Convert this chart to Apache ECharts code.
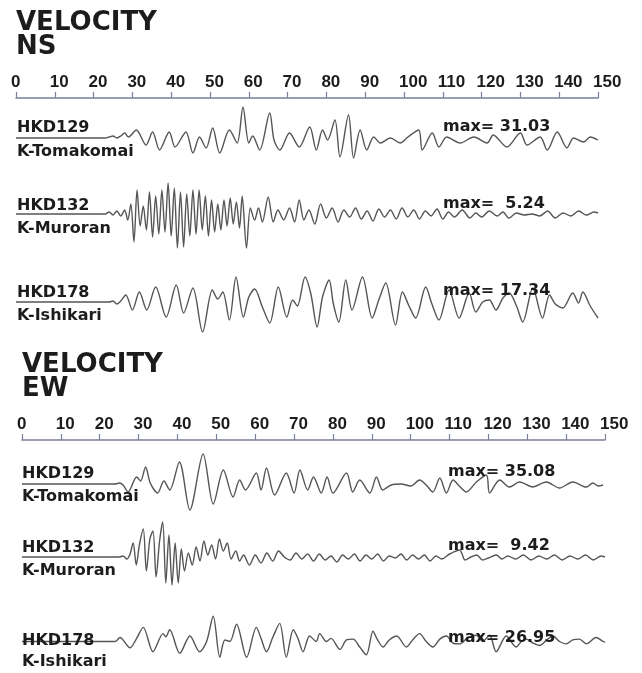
<!DOCTYPE html>
<html><head><meta charset="utf-8">
<script src="https://cdn.jsdelivr.net/npm/echarts@6/dist/echarts.min.js"></script>
<style>html,body{margin:0;padding:0;background:#fff}#c{width:642px;height:673px}</style>
</head><body><div id="c"></div>
<script>
// time axis (s)
const timeMin = 0, timeMax = 150, timeStep = 10;
const stations = ['HKD129', 'HKD132', 'HKD178'];
const sites = ['K-Tomakomai', 'K-Muroran', 'K-Ishikari'];
const nsMax = ['31.03', ' 5.24', '17.34'];
const ewMax = ['35.08', ' 9.42', '26.95'];

// velocity traces: [time s, relative amplitude]
const nsHKD129 = [[0,0],[23,0],[24,1],[25,2],[26,0],[27,2],[28,5],[29,1],[31,8],[33.5,-7],[35.2,6],[37,-12],[39.5,6],[41,-9],[43.8,6],[45.6,-15],[47.3,1],[49,-10],[50.7,10],[52.5,-15],[55,8],[57,-5],[58.5,31],[60,-5],[61,2],[62.8,-12],[65.4,25],[66.5,-2],[68,-12],[70.5,5],[73,-9],[75.7,11],[77.4,-12],[79,8],[80.3,-2],[82.2,18],[83.5,-19],[85.7,23],[87,-20],[88.7,8],[90.4,-12],[92.2,1],[93.9,-5],[96.5,0],[99,-5],[101,1],[103.8,8],[104.7,-12],[107.3,5],[109,-9],[111,1],[114.5,-5],[118,1],[121.4,-5],[123,3],[126.5,-9],[130,5],[131.7,-7],[135.1,1],[136.9,-12],[139.5,6],[142,-10],[143.7,0],[146.3,-4],[148,1],[150,-2]];
const nsHKD132 = [[0,0],[23,0],[24,2],[25,-1],[26,3],[27,-2],[28,4],[28.8,-6],[29.6,10],[30.4,-28],[31.2,24],[32,-12],[32.8,8],[33.6,-16],[34.4,22],[35.2,-23],[36,18],[36.8,-20],[37.6,24],[38.4,-18],[39.2,31],[40,-22],[40.8,26],[41.6,-34],[42.4,22],[43.2,-33],[44,20],[44.8,-22],[45.6,24],[46.4,-20],[47.2,24],[48,-16],[48.8,18],[49.6,-22],[50.4,14],[51.2,-18],[52,10],[52.8,-16],[53.6,14],[54.4,-12],[55.2,16],[56,-10],[56.8,12],[57.6,-14],[58.3,18],[59.4,-34],[60.4,6],[61.5,-6],[62.5,6],[63.5,-8],[65,17],[66.3,-8],[67.5,4],[69,-6],[70.5,6],[71.8,-8],[73,14],[74.2,-6],[75.5,4],[77,-10],[78.5,10],[80,-4],[81.5,6],[83,-8],[84.5,4],[86,-3],[87.5,6],[89,-5],[90.5,3],[92,-7],[93.5,5],[95,-3],[96.5,4],[98,-5],[99.5,6],[101,-3],[102.5,4],[104,-5],[105.5,3],[107,-2],[108.5,5],[110,-5],[111.5,2],[113,-3],[115,4],[117,-4],[118.5,1],[120,-3],[122,3],[124,-2],[125.5,2],[127,-4],[129,1],[131,-1],[133,0],[135,-2],[137,3],[139,-4],[141,1],[143,-2],[145,3],[147,-1],[149,2],[150,1]];
const nsHKD178 = [[0,0],[24,0],[25,1],[26,-2],[27,1],[28.3,7],[30,-8],[31.8,10],[33.7,-8],[36,15],[38.7,-15],[41.3,17],[43.2,-11],[45.6,14],[48.1,-30],[50.6,12],[52,3],[53.3,10],[55,-18],[56.7,25],[58.6,-15],[60,5],[61.5,13],[63.5,-5],[65.4,-21],[67.6,15],[69.8,-15],[71.3,2],[72.5,-4],[74.5,25],[76,8],[77.6,-25],[79,5],[80.7,22],[81.8,-2],[83.2,-20],[85,22],[86.6,-8],[89.3,25],[91.8,-16],[93.5,2],[95.3,19],[97.8,-23],[99.6,10],[101.3,-4],[103,-16],[105.6,15],[107.2,-2],[109,-18],[111.6,12],[114.2,-16],[116.8,9],[118.5,-10],[120.3,0],[122,2],[123.7,-8],[125.5,4],[127.1,9],[129,-4],[130.6,-20],[133.2,14],[135.7,-16],[137.5,7],[139,-2],[140.9,-6],[143.5,9],[145,-1],[146.1,10],[148,-4],[150,-16]];
const ewHKD129 = [[0,0],[24,0],[25,1],[26,-1],[27.3,-8],[29.5,7],[30.5,3],[31.8,17],[33,1],[34.9,-9],[36.5,3],[38,-6],[40.5,22],[43.2,-26],[46.6,30],[49.2,-20],[51.8,14],[54.3,-13],[56,4],[57.5,-6],[60.3,11],[61.5,-6],[62.9,16],[65,-11],[68,11],[70,-9],[71.5,14],[73.5,-6],[75,7],[77,-9],[78.5,7],[80,-9],[83.5,11],[85.1,-8],[86.9,4],[89.5,-9],[91.2,7],[92.8,-6],[95,-1],[97.5,0],[100,-2],[102.3,4],[104,-1],[105.7,-8],[107.5,6],[109.2,-9],[110.9,4],[112.5,-2],[114.3,-8],[116.9,2],[119.5,9],[120.3,-9],[122.9,4],[125.4,-3],[128,2],[131.4,-3],[134.9,2],[138.3,-4],[141.7,2],[145.2,-3],[146.9,1],[148.3,-2],[149.5,-1]];
const ewHKD132 = [[0,0],[25,0],[26,1],[27,-2],[27.8,3],[28.6,14],[29.4,-8],[30.2,12],[31.2,28],[32,-14],[32.9,18],[33.7,26],[34.5,-20],[35.4,16],[36.2,35],[37,-26],[37.8,22],[38.6,-28],[39.4,14],[40.2,-26],[41,8],[41.8,-14],[42.8,4],[43.8,-8],[44.8,10],[45.8,-4],[46.8,16],[47.8,2],[48.8,12],[49.8,-2],[50.8,18],[51.8,6],[52.8,14],[53.8,-2],[55,6],[56,-4],[57,2],[58.5,-8],[60,2],[61.5,-6],[63,4],[64.5,-4],[66,6],[67.5,0],[69,-3],[70.5,4],[72,-2],[73.5,3],[75,-4],[76.5,3],[78,-3],[79.5,1],[81,-5],[82.5,2],[84,-2],[85.5,3],[87,-4],[88.5,2],[90,-2],[91.5,3],[93,-4],[94.5,1],[96,-1],[97.5,3],[99,-3],[100.5,2],[102,-2],[103.5,2],[105,-4],[106.5,1],[108,-2],[110,3],[112.6,7],[114,-3],[115.5,0],[117,2],[118.5,-3],[120,-1],[122,2],[123.5,-2],[125,1],[127,-2],[129,2],[131,-3],[133,1],[135,-2],[137,2],[139,-3],[141,1],[143,-2],[145,2],[147,-3],[149,1],[150,0]];
const ewHKD178 = [[0,0],[24,0],[25.2,5],[27.8,-8],[29.5,4],[31.2,18],[33.7,-13],[36.3,10],[37,6],[38,15],[40.6,-15],[43.2,7],[45.7,-13],[47.5,0],[49.2,32],[50.9,-20],[52.2,2],[53.5,0],[55.2,22],[57.8,-20],[60.3,18],[61.5,4],[62.9,-13],[64.5,5],[66.3,23],[68,-20],[69.8,15],[71,4],[72.3,-13],[74,7],[75.7,0],[76.6,10],[78.3,0],[79.5,4],[81.8,-10],[83.5,2],[85.2,3],[86.9,-7],[88.6,-17],[90.3,13],[91.5,2],[92.9,-7],[94.5,2],[96.4,7],[98.9,-7],[100.5,2],[102.3,10],[104,0],[105.7,-7],[107.5,3],[109.2,7],[110.9,-2],[112.6,-3],[114.5,4],[116.9,8],[118.5,0],[120.3,8],[122,-13],[124.6,7],[127.1,-7],[128.5,0],[129.7,3],[131.5,-2],[133.2,-5],[135,2],[136.6,7],[138.3,0],[140,-3],[141.7,2],[143.4,3],[145.2,-3],[147.7,5],[149.5,0],[150,-1]];

const nsTraces = [nsHKD129, nsHKD132, nsHKD178];
const ewTraces = [ewHKD129, ewHKD132, ewHKD178];

// ---- layout ----
const panels = [
  {title: 'VELOCITY\nNS', tx: 16, ty: 11, left: 16, width: 582, axisTop: 98, base: [138, 214, 302], labY: [[128,152],[206,229],[293,316]], maxX: 443, maxY: [127, 204, 291], traces: nsTraces, maxes: nsMax, labX: 17},
  {title: 'VELOCITY\nEW', tx: 22, ty: 353, left: 22, width: 583, axisTop: 440, base: [484, 557, 650], labY: [[474,497],[548,571],[641,662]], maxX: 448, maxY: [472, 546, 638], traces: ewTraces, maxes: ewMax, labX: 22}
];
const HALF = 40;
const grids = [], xAxes = [], yAxes = [], series = [], graphics = [];
const TXT = '#1c1c1c', LINE = '#555';
panels.forEach(p => {
  // axis grid
  const gi = grids.length;
  grids.push({left: p.left, width: p.width, top: p.axisTop, height: 10});
  xAxes.push({gridIndex: gi, type: 'value', position: 'top', min: timeMin, max: timeMax, interval: timeStep,
    axisLine: {show: true, onZero: false, lineStyle: {color: '#7a7f9a', width: 1.5}},
    axisTick: {show: true, inside: false, length: 6, lineStyle: {color: '#7a7f9a', width: 1.2}},
    axisLabel: {show: true, margin: 7, color: TXT, fontFamily: 'Liberation Sans', fontWeight: 'bold', fontSize: 17, align: 'left', padding: [0,0,0,-5]},
    splitLine: {show: false}});
  yAxes.push({gridIndex: gi, type: 'value', show: false, min: 0, max: 1});
  p.traces.forEach((tr, k) => {
    const g = grids.length;
    grids.push({left: p.left, width: p.width, top: p.base[k] - HALF, height: 2 * HALF});
    xAxes.push({gridIndex: g, type: 'value', show: false, min: timeMin, max: timeMax});
    yAxes.push({gridIndex: g, type: 'value', show: false, min: -HALF, max: HALF});
    series.push({type: 'line', xAxisIndex: g, yAxisIndex: g, data: tr, showSymbol: false, smooth: 0.3,
      clip: false, lineStyle: {color: LINE, width: 1.4}, silent: true, z: 2});
    graphics.push({type: 'text', x: p.labX, y: p.labY[k][0], z: 5, style: {text: stations[k], font: 'bold 16px "DejaVu Sans"', fill: TXT, verticalAlign: 'middle'}});
    graphics.push({type: 'text', x: p.labX, y: p.labY[k][1], z: 5, style: {text: sites[k], font: 'bold 16px "DejaVu Sans"', fill: TXT, verticalAlign: 'middle'}});
    graphics.push({type: 'text', x: p.maxX, y: p.maxY[k], z: 5, style: {text: 'max= ' + p.maxes[k], font: 'bold 16px "DejaVu Sans"', fill: TXT, verticalAlign: 'middle'}});
  });
  graphics.push({type: 'text', x: p.tx, y: p.ty, z: 5, style: {text: p.title, font: 'bold 26px "DejaVu Sans"', lineHeight: 24, fill: TXT, verticalAlign: 'top'}});
});

const chart = echarts.init(document.getElementById('c'), null, {renderer: 'canvas'});
chart.setOption({
  animation: false,
  backgroundColor: '#fff',
  grid: grids, xAxis: xAxes, yAxis: yAxes, series: series, graphic: graphics
});
</script>
</body></html>
